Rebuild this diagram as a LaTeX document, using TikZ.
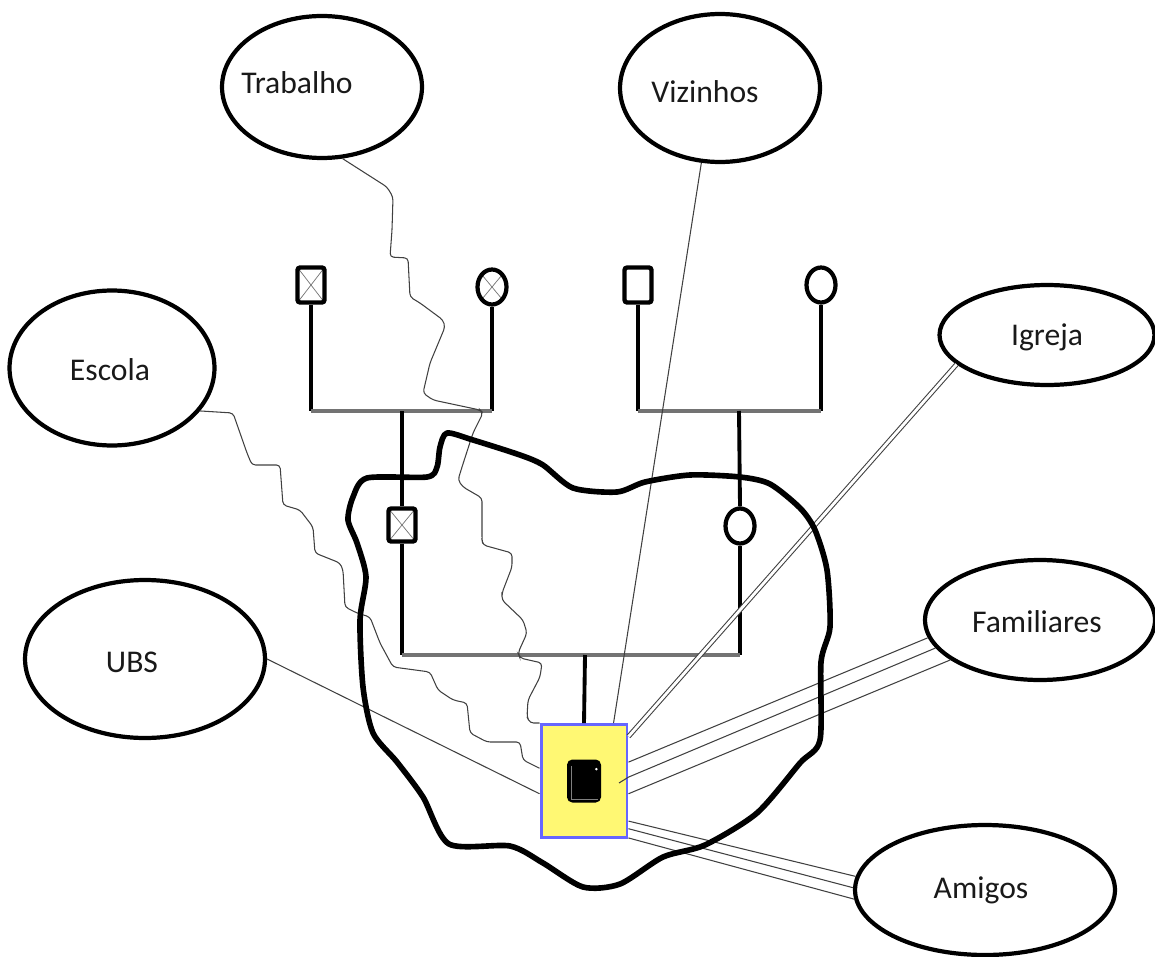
\documentclass[tikz,border=0pt]{standalone}
\usepackage{fontspec}
\setmainfont{Carlito}
\usetikzlibrary{shapes.geometric}

\begin{document}
\begin{tikzpicture}[x=0.02cm,y=-0.02cm,
    rede/.style={draw,ellipse,line width=2.4pt,inner sep=0pt},
    rotulo/.style={inner sep=0pt,font=\fontsize{18}{20}\selectfont,text=black!90},
    homem/.style={draw,rectangle,rounded corners=1.5pt,line width=2.5pt,inner sep=0pt,minimum width=0.54cm,minimum height=0.7cm},
    mulher/.style={draw,ellipse,line width=2.4pt,inner sep=0pt,minimum width=0.58cm,minimum height=0.7cm},
    cruz/.style={path picture={\draw[black!55,line width=0.4pt] (path picture bounding box.north west) -- (path picture bounding box.south east) (path picture bounding box.north east) -- (path picture bounding box.south west);}},
    vida/.style={line width=2.2pt},
    uniao/.style={line width=2pt,black!55},
    laco/.style={line width=0.6pt,black!75},
    forte/.style={laco,double=white,double distance=1.6pt},
    tenso/.style={laco,rounded corners=2pt}]
  \useasboundingbox (0,0) rectangle (1155,956);
  % rede social
  \node[rede,minimum width=4cm,minimum height=2.84cm] (trab) at (322,87) {};
  \node[rede,minimum width=4cm,minimum height=2.96cm] (vizi) at (720,88) {};
  \node[rede,minimum width=4.1cm,minimum height=3.1cm] (esc) at (112,368) {};
  \node[rede,minimum width=4.3cm,minimum height=2cm] (igr) at (1047,335) {};
  \node[rede,minimum width=4.6cm,minimum height=2.4cm] (fam) at (1040,620) {};
  \node[rede,minimum width=4.8cm,minimum height=3.16cm] (ubs) at (145,659) {};
  \node[rede,minimum width=5.2cm,minimum height=2.6cm] (ami) at (985,890) {};
  \node[rotulo] (trab-t) at (297,83) {Trabalho};
  \node[rotulo] (vizi-t) at (705,92) {Vizinhos};
  \node[rotulo] (esc-t) at (110,370) {Escola};
  \node[rotulo] (igr-t) at (1047,337) {Igreja};
  \node[rotulo] (fam-t) at (1037,622) {Familiares};
  \node[rotulo] (ubs-t) at (132,662) {UBS};
  \node[rotulo] (ami-t) at (981,890) {Amigos};
  % genograma
  \node[homem,cruz] (avo1) at (311,285) {};
  \node[mulher,cruz] (avo2) at (492,287) {};
  \node[homem] (avo3) at (638,285) {};
  \node[mulher] (avo4) at (821,285) {};
  \node[homem,cruz,minimum height=0.66cm] (pai) at (402,525) {};
  \node[mulher] (mae) at (740,526) {};
  \coordinate (u1) at (402,411);
  \coordinate (u2) at (739,411);
  \coordinate (u3) at (585,655);
  \draw[vida] (avo1.south) -- (avo1.south |- u1);
  \draw[vida] (avo2.south) -- (avo2.south |- u1);
  \draw[vida] (avo3.south) -- (avo3.south |- u2);
  \draw[vida] (avo4.south) -- (avo4.south |- u2);
  \draw[uniao] (avo1.south |- u1) -- (avo2.south |- u1);
  \draw[uniao] (avo3.south |- u2) -- (avo4.south |- u2);
  \draw[vida] (u1) -- (pai.north);
  \draw[vida] (u2) -- (mae.north);
  \draw[vida] (pai.south) -- (pai.south |- u3);
  \draw[vida] (mae.south) -- (mae.south |- u3);
  \draw[uniao] (pai.south |- u3) -- (mae.south |- u3);
  \node[draw=blue!60,fill=yellow!55,line width=1.7pt,inner sep=0pt,minimum width=1.72cm,minimum height=2.26cm] (ego) at (584,781) {};
  \draw[vida] (u3) -- (ego.north);
  \node[fill=black,rounded corners=3pt,inner sep=0pt,minimum width=0.68cm,minimum height=0.86cm] (ego-in) at (ego.center) {};
  \draw[gray,line width=0.4pt] ([shift={(0.1cm,-0.14cm)}]ego-in.north west) |- ([shift={(-0.06cm,0.08cm)}]ego-in.south east);
  \fill[white] ([shift={(-0.1cm,-0.2cm)}]ego-in.north east) circle (0.8pt);
  % vinculos
  \draw[tenso] (trab.286) -- (387,187) -- (393,197) -- (392,230) -- (390,257) -- (408,258) -- (410,297) -- (420,303) -- (443,320) -- (445,327) -- (430,363) -- (423,393) -- (433,400) -- (480,410) -- (483,413) -- (473,433) -- (462,467) -- (458,480) -- (463,487) -- (482,498) -- (482,540) -- (483,545) -- (512,553) -- (512,567) -- (502,593) -- (502,600) -- (523,620) -- (527,633) -- (518,653) -- (520,658) -- (542,663) -- (540,677) -- (528,700) -- (527,717) -- (530,723) -- (ego.north west);
  \draw[tenso] (esc.334) -- (233,413) -- (247,453) -- (252,465) -- (280,465) -- (283,505) -- (300,510) -- (313,527) -- (315,553) -- (340,563) -- (343,570) -- (345,607) -- (357,613) -- (370,617) -- (380,643) -- (393,667) -- (430,672) -- (438,690) -- (453,700) -- (467,703) -- (470,733) -- (487,742) -- (520,742) -- (523,760) -- (ego.164);
  \draw[laco] (ubs.east) -- (ego.196);
  \draw[laco] (vizi.256) -- (ego.63);
  \draw[forte] (igr.198) -- (ego.45);
  \draw[laco] (fam.189) -- (ego.23);
  \draw[laco] (fam.195) -- (ego.5) -- (619,783);
  \draw[laco] (fam.204) -- (ego.344);
  \draw[laco] (ego.318) -- (ami.174);
  \draw[laco] (ego.313) -- (ami.179);
  \draw[laco] (ego.308) -- (ami.184);
  % fronteira
  \draw[line width=3.2pt,line join=round] plot[smooth cycle,tension=0.45] coordinates {(447,433) (473,440) (520,455) (543,465) (573,488) (617,492) (645,482) (690,475) (740,477) (770,484) (800,508) (815,530) (827,570) (830,627) (821,662) (820,740) (800,763) (757,813) (705,845) (663,857) (620,884) (583,887) (543,863) (510,846) (449,844) (423,797) (397,762) (373,733) (363,687) (360,620) (366,577) (357,543) (348,520) (353,497) (367,478) (427,477) (437,467) (440,447)};
\end{tikzpicture}
\end{document}
